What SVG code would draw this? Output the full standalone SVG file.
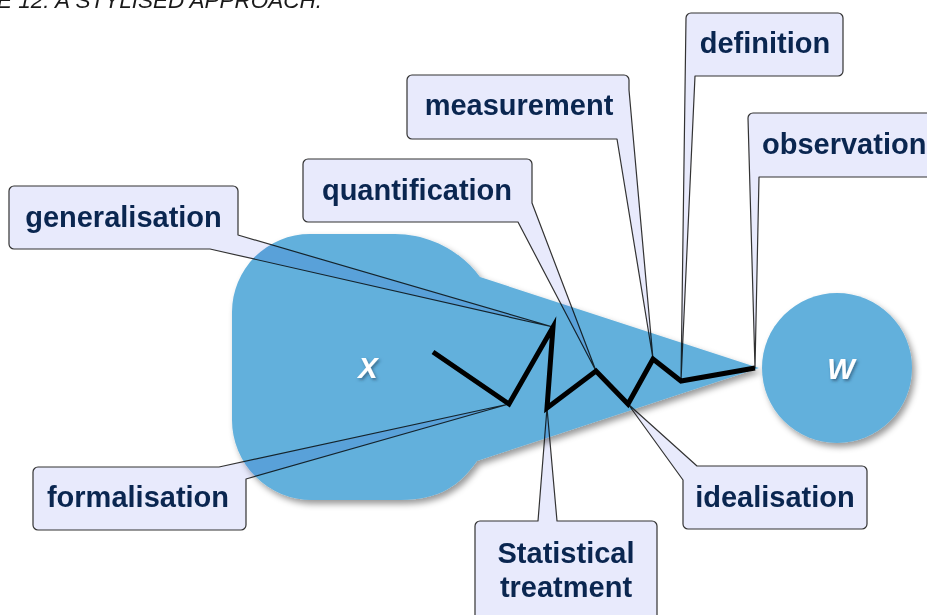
<svg xmlns="http://www.w3.org/2000/svg" width="927" height="615" viewBox="0 0 927 615">
  <defs>
    <filter id="shadow" x="-10%" y="-10%" width="125%" height="130%">
      <feDropShadow dx="3" dy="4" stdDeviation="3" flood-color="#000" flood-opacity="0.4"/>
    </filter>
    <filter id="tshadow" x="-30%" y="-30%" width="170%" height="170%">
      <feDropShadow dx="1.5" dy="2" stdDeviation="1.5" flood-color="#1a3550" flood-opacity="0.55"/>
    </filter>
    <style>
      .blob { fill: #62b0dc; }
      .callout { fill: #e8eafc; stroke: #333; stroke-width: 1.2; stroke-linejoin: round; mix-blend-mode: multiply; }
      .lbl { font-family: "Liberation Sans", Arial, sans-serif; font-weight: bold; font-size: 29px; fill: #0a2650; text-anchor: middle; }
      .big { font-family: "Liberation Sans", Arial, sans-serif; font-weight: bold; font-style: italic; font-size: 29px; fill: #ffffff; text-anchor: middle; }
      .title { font-family: "Liberation Sans", Arial, sans-serif; font-style: italic; font-size: 22.5px; fill: #1a1a1a; }
      .zig { fill: none; stroke: #000; stroke-width: 5; stroke-linejoin: miter; stroke-miterlimit: 10; }
    </style>
  </defs>

  <text class="title" x="-3" y="8">E 12: A STYLISED APPROACH.</text>

  <g id="node-X">
    <path class="blob" filter="url(#shadow)" d="M310,234 H395 C430,234 462,252 480,277 L759,368 L477,461 C460,485 440,500 400,500 H312 A80,80 0 0 1 232,420 V312 A78,78 0 0 1 310,234 Z"/>
  </g>
  <g id="node-W">
    <circle class="blob" filter="url(#shadow)" cx="837" cy="368" r="75"/>
  </g>

  <g id="callout-generalisation">
    <path class="callout" d="M14,186 H233 A5,5 0 0 1 238,191 V235 L553,327 L210,249 H14 A5,5 0 0 1 9,244 V191 A5,5 0 0 1 14,186 Z"/>
    <text class="lbl" x="123.5" y="227">generalisation</text>
  </g>
  <g id="callout-quantification">
    <path class="callout" d="M308,159 H527 A5,5 0 0 1 532,164 V203 L596,371 L518,222 H308 A5,5 0 0 1 303,217 V164 A5,5 0 0 1 308,159 Z"/>
    <text class="lbl" x="417" y="200">quantification</text>
  </g>
  <g id="callout-measurement">
    <path class="callout" d="M412,75 H624 A5,5 0 0 1 629,80 V90 L653,359 L617,139 H412 A5,5 0 0 1 407,134 V80 A5,5 0 0 1 412,75 Z"/>
    <text class="lbl" x="519" y="115">measurement</text>
  </g>
  <g id="callout-definition">
    <path class="callout" d="M691,13 H838 A5,5 0 0 1 843,18 V71 A5,5 0 0 1 838,76 H695 L681,381 L686,18 A5,5 0 0 1 691,13 Z"/>
    <text class="lbl" x="765" y="53">definition</text>
  </g>
  <g id="callout-observation">
    <path class="callout" d="M753,113 H945 V177 H759 L755,368 L748,118 A5,5 0 0 1 753,113 Z"/>
    <text class="lbl" x="762" y="154" style="text-anchor:start">observation</text>
  </g>
  <g id="callout-formalisation">
    <path class="callout" d="M38,467 H219 L509,404 L246,479 V525 A5,5 0 0 1 241,530 H38 A5,5 0 0 1 33,525 V472 A5,5 0 0 1 38,467 Z"/>
    <text class="lbl" x="138" y="507">formalisation</text>
  </g>
  <g id="callout-statistical">
    <path class="callout" d="M480,521 H538 L547,408 L557,521 H652 A5,5 0 0 1 657,526 V650 H475 V526 A5,5 0 0 1 480,521 Z"/>
    <text class="lbl" x="566" y="563">Statistical</text>
    <text class="lbl" x="566" y="597">treatment</text>
  </g>
  <g id="callout-idealisation">
    <path class="callout" d="M697,466 H862 A5,5 0 0 1 867,471 V524 A5,5 0 0 1 862,529 H688 A5,5 0 0 1 683,524 V480 L628,404 Z"/>
    <text class="lbl" x="775" y="507">idealisation</text>
  </g>

  <g id="connectors">
    <polyline class="zig" points="433,352 509,404 553,327 547,408 596,371 628,404 653,359 681,381 755,368"/>
  </g>

  <g id="labels">
    <text class="big" x="368" y="378" filter="url(#tshadow)">X</text>
    <text class="big" x="841" y="379" filter="url(#tshadow)">W</text>
  </g>
</svg>
